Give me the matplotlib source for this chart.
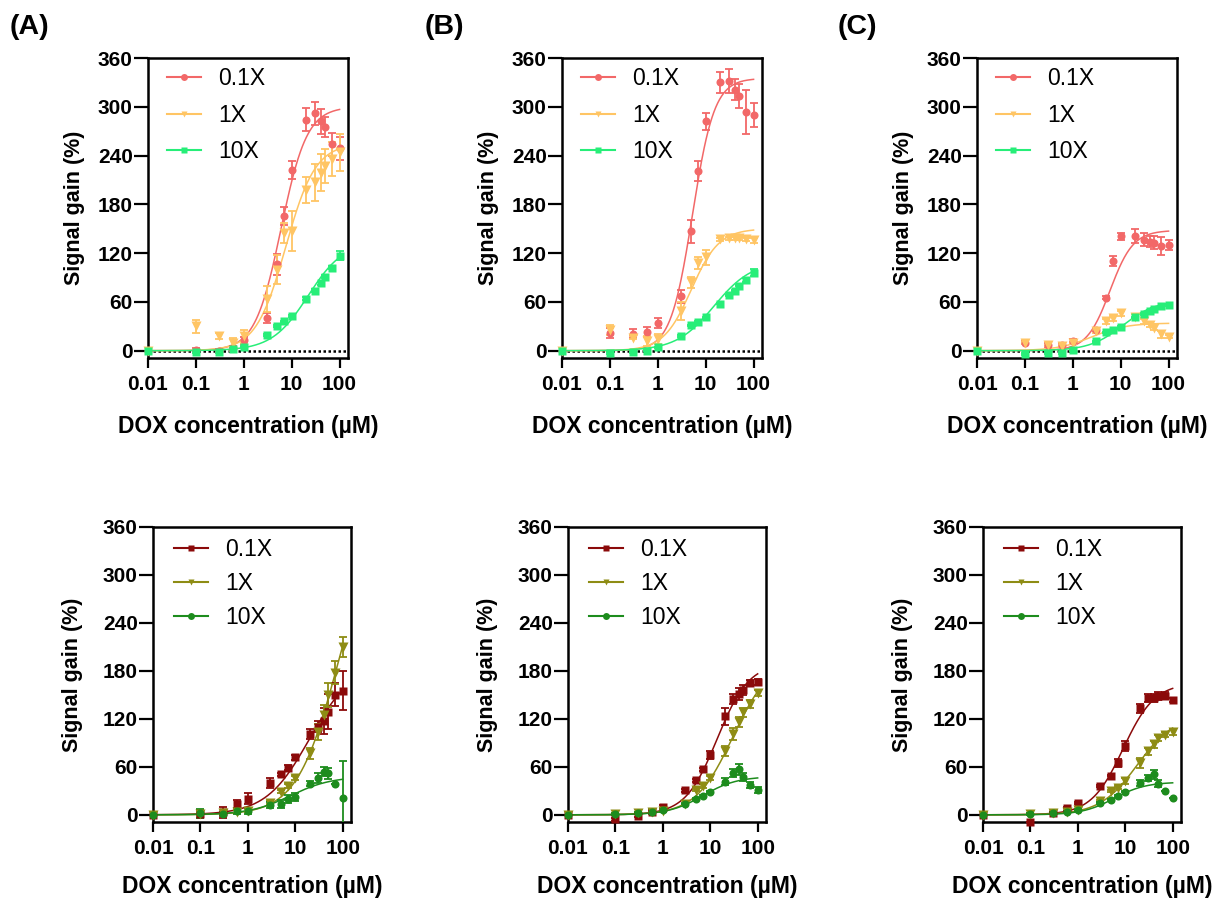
import numpy as np
import matplotlib.pyplot as plt
from matplotlib.lines import Line2D

plt.rcParams['font.family'] = ['Liberation Sans', 'DejaVu Sans']

# DOX concentrations (uM); 0 is drawn at 0.01 on the log axis
dox = np.array([0, 0.1, 0.3, 0.6, 1, 3, 5, 7, 10, 20, 30, 40, 50, 70, 100])
labels = ['0.1X', '1X', '10X']

# signal gain (%), one list per concentration ratio: 0.1X, 1X, 10X
top_a_gain = [
    [0, 1, 0, 3, 12.7, 40, 106.5, 166, 222, 284, 292, 282, 275, 254, 249],
    [0, 30, 18, 10, 18, 63.5, 99.6, 145, 147, 198, 207, 219, 227, 236, 244],
    [0, -2, -2, 2.5, 5, 19, 30, 36, 43, 64, 74, 83, 91, 102, 117],
]
top_a_sd = [
    [0, 2, 2, 3, 4, 6, 13, 11, 11, 14, 14, 15, 12, 14, 14],
    [0, 8, 4, 5, 8, 16, 18, 12, 25, 16, 23, 23, 21, 21, 23],
    [0, 1, 1, 1, 1, 1, 1, 1, 1, 2, 2, 2, 2, 2, 5.5],
]
top_b_gain = [
    [0, 22, 21, 23, 34, 67, 147, 221, 282, 330, 332, 321, 313, 294, 290],
    [0, 25, 16, 11.5, 14, 49, 84, 108, 115, 137, 138, 138, 138, 137, 136],
    [0, -3, -2, 0, 4, 18, 31, 35, 41, 58, 68, 74, 80, 87, 96],
]
top_b_sd = [
    [0, 6.5, 5.5, 6.5, 6, 8, 14, 12, 10, 13, 15, 13, 15, 27, 15],
    [0, 6, 2, 6, 6, 11, 6.5, 7, 9, 2, 2, 2, 2, 2, 3],
    [0, 1, 1, 1, 1, 1, 1, 1, 1, 1, 1, 1, 1, 2, 4],
]
top_c_gain = [
    [0, 10, 7, 7, 12, 26, 65, 110, 140.5, 141, 136.5, 134, 133, 129, 130],
    [0, 9.4, 6.6, 6, 9.4, 24, 36, 40, 46, 42, 36, 32, 28, 20, 17],
    [0, -3.7, -3, -3, 1, 11.5, 22.5, 25, 29, 41, 45.5, 49, 51, 54.5, 56],
]
top_c_sd = [
    [0, 2, 2, 2, 2, 2, 2, 6, 4, 8.5, 8, 7, 8, 11, 6],
    [0, 1, 1, 1, 1, 2, 3, 3, 3, 3, 3, 3, 3, 4, 2],
    [0, 1, 1, 1, 1, 1, 1, 1, 1, 1, 1, 1, 1, 1, 1.5],
]
bot_a_gain = [
    [0, 1, 3, 13, 20, 40, 50.5, 59, 72, 101, 110, 117.6, 129, 150, 155],
    [0, 1, 2, 4, 5, 15, 29, 36, 46, 77, 104, 125, 150, 178, 210],
    [0, 1.7, 1, 5, 5, 12, 14, 19.5, 22, 39, 46, 54, 52, 38, 20.7],
]
bot_a_sd = [
    [0, 5.5, 7, 6, 7, 6, 2, 3, 3, 6, 7, 16.5, 21.7, 14.5, 24.4],
    [0, 2, 2, 2, 2, 2, 2, 2, 3, 7, 10, 12, 15, 15, 12.4],
    [0, 5.5, 2, 4, 4, 4, 5, 5, 5, 3, 6, 6, 7, 0, 47],
]
bot_b_gain = [
    [0, -5.4, -1, 4, 10, 30.6, 43, 57, 75, 123, 145, 151, 156, 165, 166],
    [0, 1, 2, 3, 5, 13, 31, 36, 46, 80, 101, 116, 128, 139, 152],
    [0, 1, 2, 4, 6, 14, 19.5, 23.6, 29, 41.4, 51.7, 56.7, 46.8, 37, 31],
]
bot_b_sd = [
    [0, 2, 2, 2, 2, 2, 2, 2, 5, 10.5, 6, 8, 6, 4, 4],
    [0, 1, 1, 1, 1, 1, 1, 2, 2, 6, 7, 6, 5.5, 5, 4],
    [0, 1, 1, 3, 2, 1, 1, 1, 1, 4.5, 5, 6.5, 5, 4, 4],
]
bot_c_gain = [
    [0, -9.5, 2, 9, 14.5, 36, 49, 65, 85.7, 133, 146.5, 146.5, 148, 149, 143.6],
    [0, 1, 2, 4, 6, 17, 30, 34, 42, 65, 79.5, 88, 96, 100, 103.5],
    [0, 1, 2, 4, 6, 14.5, 19, 23.6, 29, 40, 46, 50.5, 39, 30, 21.5],
]
bot_c_sd = [
    [0, 1, 1, 1, 1, 1, 1, 5, 6, 6, 5, 5, 5, 4, 3],
    [0, 1, 1, 1, 1, 1, 1, 2, 4, 6, 4.5, 4, 4, 3, 4],
    [0, 1, 1, 1, 1, 1, 1, 1, 1, 4, 4, 5.5, 4, 0, 0],
]

# dose-response fits (top, EC50 in uM, Hill slope) for each series
top_a_fit = [(300, 6.0, 1.6), (255, 7.5, 1.4), (135, 22, 1.15)]
top_b_fit = [(335, 5.3, 1.9), (150, 5.0, 1.5), (110, 15, 1.1)]
top_c_fit = [(148, 6.0, 1.8), (34, 2.5, 1.2), (62, 11, 1.25)]
bot_a_fit = [(190, 20, 0.95), (380, 80, 1.0), (48, 8, 1.0)]
bot_b_fit = [(190, 14, 1.3), (195, 30, 1.1), (48, 7, 1.2)]
bot_c_fit = [(165, 9, 1.3), (125, 18, 1.1), (41, 5.8, 1.3)]

top_colors = ['#f26868', '#ffc564', '#27ee78']
top_markers = ['o', 'v', 's']
bot_colors = ['#8b0a0a', '#8e8c14', '#1d8c1d']
bot_markers = ['s', 'v', 'o']


def draw_panel(ax, gains, sds, fits, colors, markers, zero_line, spacing):
    px = np.where(dox == 0, 0.01, dox)
    xs = np.logspace(-2, 2, 300)
    for (top, ec, n), c in zip(fits, colors):
        ax.plot(xs, top * xs**n / (ec**n + xs**n), color=c, lw=1.1, zorder=2)
    for g, s, c, m in zip(gains, sds, colors, markers):
        ax.errorbar(px, g, yerr=s, fmt='none', ecolor=c, elinewidth=1.3,
                    capsize=3, capthick=1.3, zorder=3)
        ms = 6.5 if m == 'v' else 5.8
        ax.plot(px, g, m, color=c, ms=ms, mec='none', ls='none',
                clip_on=False, zorder=4)
    if zero_line:
        ax.axhline(0, color='k', lw=1.8, ls=(0, (1, 1)), zorder=1)

    ax.set_xscale('log')
    ax.set_xlim(0.01, 150)
    ax.set_ylim(-9, 360)
    ax.set_xticks([0.01, 0.1, 1, 10, 100])
    ax.set_xticklabels(['0.01', '0.1', '1', '10', '100'],
                       fontsize=15, fontweight='bold')
    ax.xaxis.set_minor_locator(plt.NullLocator())
    ax.set_yticks(range(0, 361, 60))
    ax.set_yticklabels([str(v) for v in range(0, 361, 60)],
                       fontsize=15, fontweight='bold')
    ax.tick_params(axis='y', length=10, width=1.6, pad=1)
    ax.tick_params(axis='x', length=7, width=1.6, pad=5)
    for sp in ax.spines.values():
        sp.set_linewidth(1.8)
    ax.set_xlabel('DOX concentration (\u00b5M)', fontsize=16.5, fontweight='bold')
    ax.set_ylabel('Signal gain (%)', fontsize=15.5, fontweight='bold')

    handles = [Line2D([0], [0], color=c, lw=1.5, marker=m, ms=5, mec='none')
               for c, m in zip(colors, markers)]
    ax.legend(handles, labels, loc='upper left', frameon=False, fontsize=16.5,
              handlelength=1.48, handletextpad=0.75, labelspacing=spacing,
              borderaxespad=0, borderpad=0.2)
    return ax


fig = plt.figure(figsize=(12.19, 9), dpi=100)
W, H = 1219, 900

top_lefts = [148, 562, 977]
bot_lefts = [153, 568, 983]
top_data = [(top_a_gain, top_a_sd, top_a_fit), (top_b_gain, top_b_sd, top_b_fit),
            (top_c_gain, top_c_sd, top_c_fit)]
bot_data = [(bot_a_gain, bot_a_sd, bot_a_fit), (bot_b_gain, bot_b_sd, bot_b_fit),
            (bot_c_gain, bot_c_sd, bot_c_fit)]

for left, (g, s, f) in zip(top_lefts, top_data):
    ax = fig.add_axes([left / W, (H - 358) / H, 200 / W, 300 / H])
    draw_panel(ax, g, s, f, top_colors, top_markers, True, 0.6)
    ax.get_legend().set_bbox_to_anchor((0.072, 0.986), transform=ax.transAxes)
    ax.xaxis.set_label_coords(0.5, -0.19)
    ax.yaxis.set_label_coords(-0.315, 0.5)

for left, (g, s, f) in zip(bot_lefts, bot_data):
    ax = fig.add_axes([left / W, (H - 822) / H, 198 / W, 295 / H])
    draw_panel(ax, g, s, f, bot_colors, bot_markers, False, 0.48)
    ax.get_legend().set_bbox_to_anchor((0.085, 0.979), transform=ax.transAxes)
    ax.xaxis.set_label_coords(0.5, -0.18)
    ax.yaxis.set_label_coords(-0.355, 0.5)

for x, t in zip([10, 425, 838], ['(A)', '(B)', '(C)']):
    fig.text(x / W, 1 - 27 / H, t, fontsize=20.5, fontweight='bold', va='center')

fig.savefig('out.png', dpi=100)
